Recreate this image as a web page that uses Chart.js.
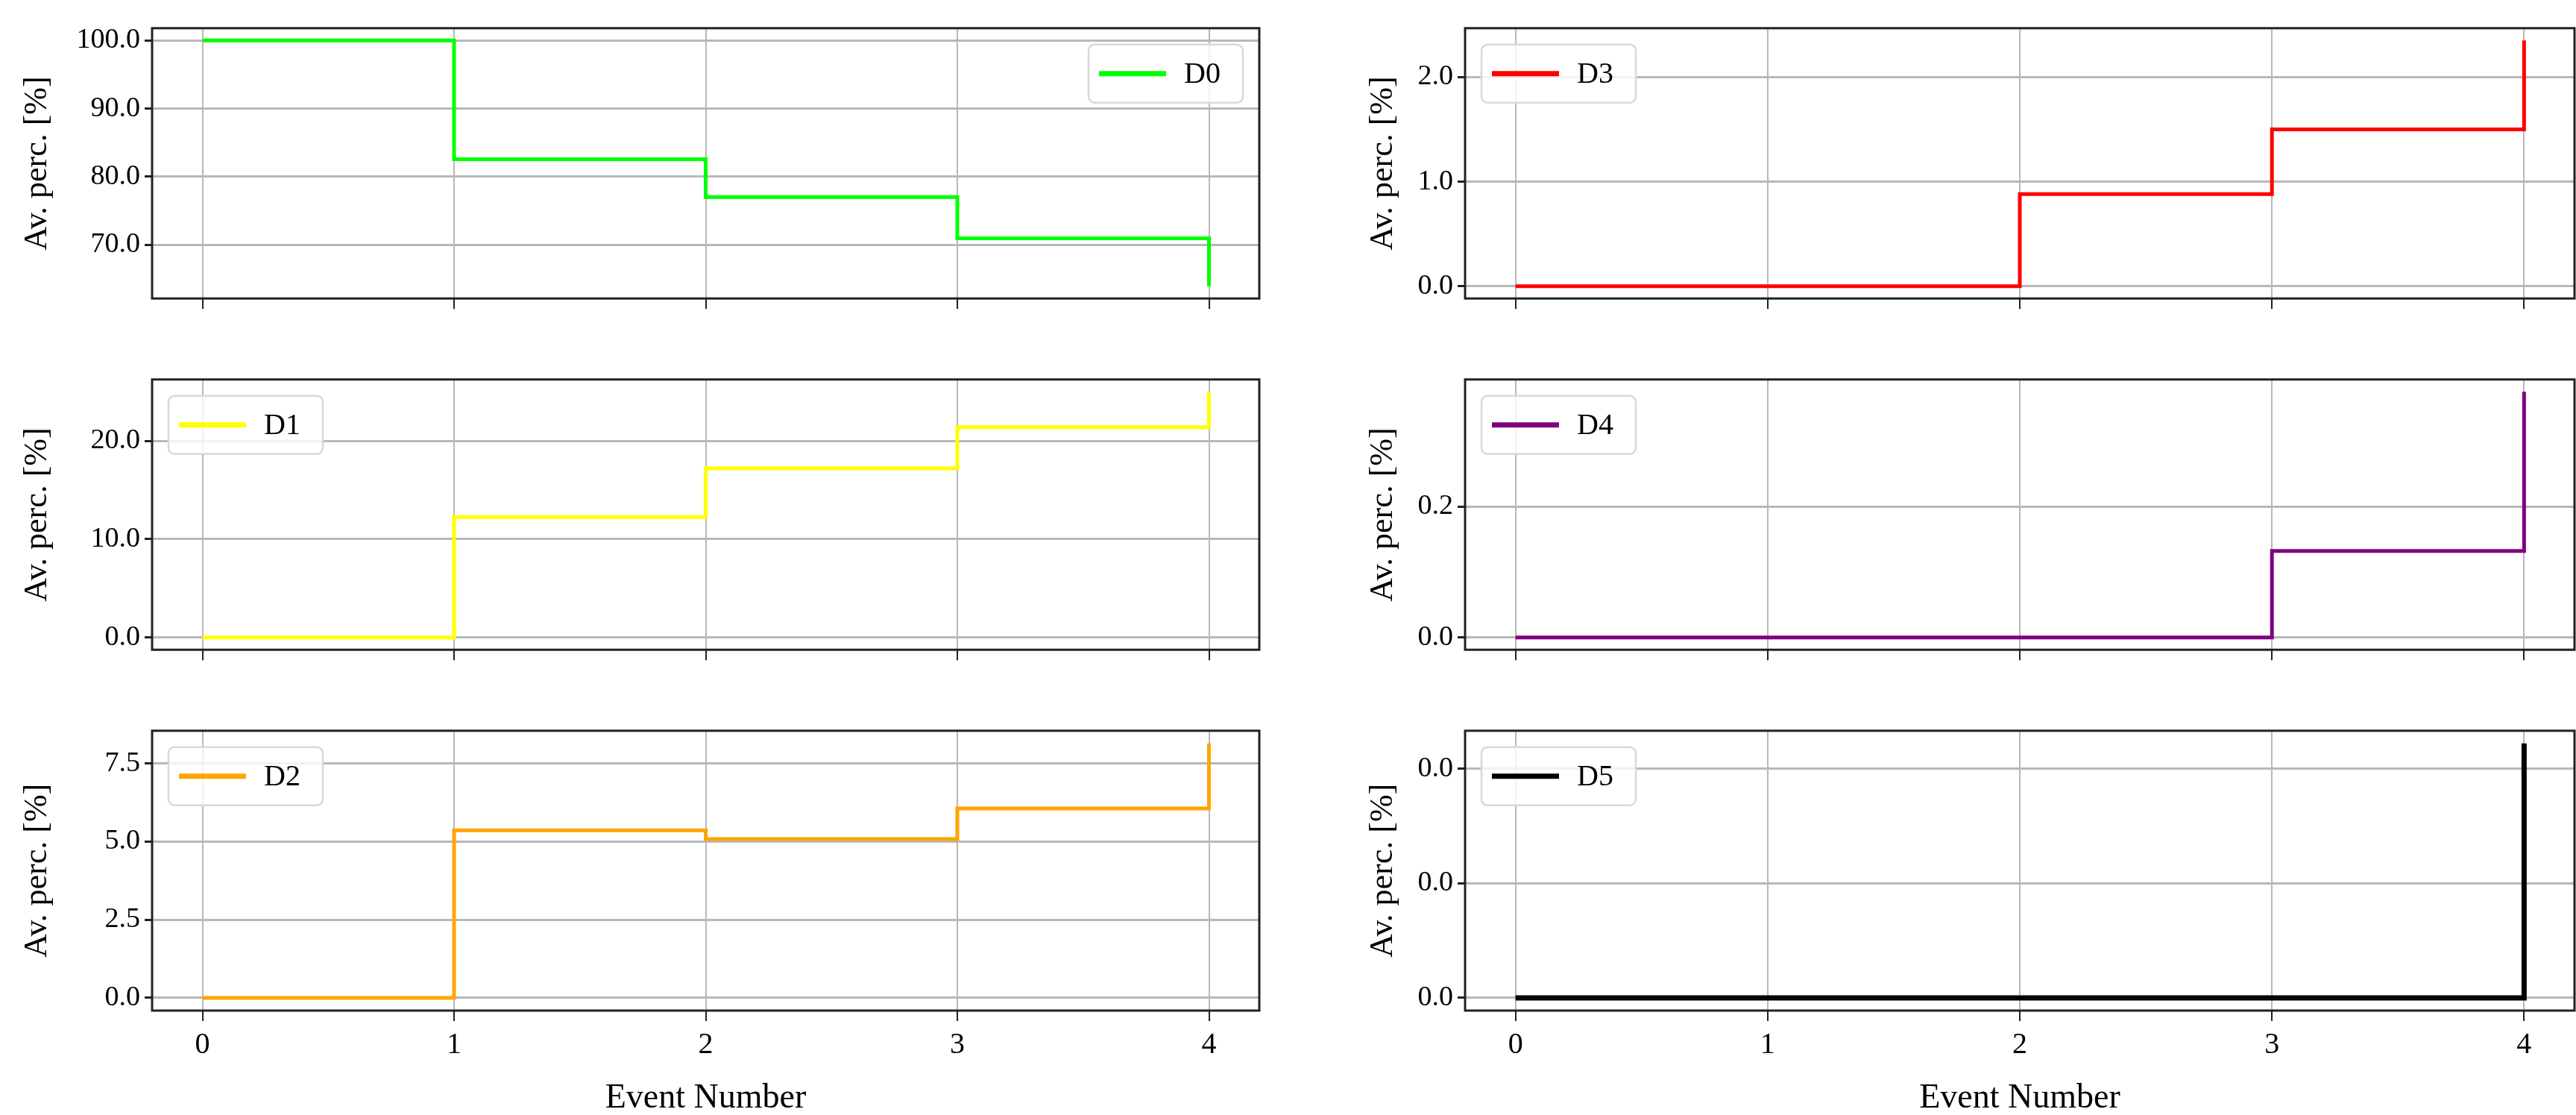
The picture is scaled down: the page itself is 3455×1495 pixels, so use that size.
<!DOCTYPE html>
<html>
<head>
<meta charset="utf-8">
<script src="https://cdn.jsdelivr.net/npm/chart.js@4"></script>
<style>
  body { margin: 0; background: #fff; }
  #wrap { position: relative; width: 3455px; height: 1495px; }
  .p { position: absolute; }
</style>
</head>
<body>
<div id="wrap"></div>
<script>
// event numbers (x) shared by all panels
const events = [0, 1, 2, 3, 4];

// average percentage per event
const d0 = [100, 82.55, 77.0, 70.95, 63.9];
const d1 = [0, 12.26, 17.2, 21.39, 25.0];
const d2 = [0, 5.36, 5.08, 6.06, 8.14];
const d3 = [0, 0, 0.88, 1.5, 2.35];
const d4 = [0, 0, 0, 0.1325, 0.376];
const d5 = [0, 0, 0, 0, 0.0222];

const names = ['D0', 'D1', 'D2', 'D3', 'D4', 'D5'];
const colors = ['#00ff00', '#ffff00', '#ffa500', '#ff0000', '#800080', '#000000'];
const series = [d0, d1, d2, d3, d4, d5];
const tickSteps = [10, 10, 2.5, 1, 0.2, 0.01];

const FONT = '"Liberation Serif", "DejaVu Serif", serif';
const rowTops = [21, 492, 963];
const plotH = 392;

// frame around the plot + matplotlib-like legend box inside it
const framePlugin = {
  id: 'frame',
  afterDraw(chart, args, opts) {
    const { ctx, chartArea: a } = chart;
    ctx.save();
    ctx.strokeStyle = '#222';
    ctx.lineWidth = 3;
    ctx.strokeRect(a.left, a.top, a.right - a.left, a.bottom - a.top);

    const ds = chart.data.datasets[0];
    const bw = 207, bh = 78;
    const bx = opts.right ? a.right - 22 - bw : a.left + 22;
    const by = a.top + 22;
    ctx.fillStyle = 'rgba(255,255,255,0.8)';
    ctx.strokeStyle = '#d8d8d8';
    ctx.lineWidth = 2.5;
    ctx.beginPath();
    ctx.roundRect(bx, by, bw, bh, 8);
    ctx.fill();
    ctx.stroke();
    ctx.strokeStyle = ds.borderColor;
    ctx.lineWidth = 7;
    ctx.beginPath();
    ctx.moveTo(bx + 14, by + bh / 2);
    ctx.lineTo(bx + 104, by + bh / 2);
    ctx.stroke();
    ctx.fillStyle = '#000';
    ctx.font = '40px ' + FONT;
    ctx.textBaseline = 'middle';
    ctx.fillText(ds.label, bx + 128, by + bh / 2 + 2);
    ctx.restore();
  }
};

function makePanel(i) {
  const col = i < 3 ? 0 : 1;
  const row = i % 3;
  const bottom = row === 2;
  const data = series[i];
  const lo = Math.min(...data), hi = Math.max(...data);
  const m = (hi - lo) * 0.05;
  const yMin = lo - m, yMax = hi + m;
  const step = tickSteps[i];

  const yW = col === 0 ? 184 : 140;
  const left = col === 0 ? 20 : 1825;
  const plotW = col === 0 ? 1485 : 1488;
  const xH = bottom ? 150 : 16;
  const padTop = 12;

  const cv = document.createElement('canvas');
  cv.className = 'p';
  const W = yW + plotW + 12, H = padTop + plotH + xH;
  cv.style.left = left + 'px';
  cv.style.top = (rowTops[row] - padTop) + 'px';
  cv.style.width = W + 'px';
  cv.style.height = H + 'px';
  cv.width = W; cv.height = H;
  document.getElementById('wrap').appendChild(cv);

  new Chart(cv.getContext('2d'), {
    type: 'line',
    data: {
      datasets: [{
        label: names[i],
        data: events.map((e, k) => ({ x: e, y: data[k] })),
        borderColor: colors[i],
        backgroundColor: colors[i],
        borderWidth: i === 5 ? 7 : 5,
        stepped: 'before',
        pointRadius: 0,
        fill: false
      }]
    },
    options: {
      responsive: false,
      animation: false,
      devicePixelRatio: 1,
      layout: { padding: { top: padTop, right: 12 } },
      plugins: {
        legend: { display: false },
        tooltip: { enabled: false },
        frame: { right: i === 0 }
      },
      scales: {
        x: {
          type: 'linear',
          min: -0.2,
          max: 4.2,
          afterBuildTicks: s => { s.ticks = events.map(v => ({ value: v })); },
          afterFit: s => { s.height = xH; },
          grid: { color: '#b8b8b8', lineWidth: 2, tickLength: 14, tickColor: '#222', tickWidth: 2 },
          border: { display: false },
          ticks: {
            display: bottom,
            font: { family: FONT, size: 40 },
            color: '#000',
            padding: 8
          },
          title: {
            display: bottom,
            text: 'Event Number',
            font: { family: FONT, size: 46 },
            color: '#000',
            padding: { top: 6 }
          }
        },
        y: {
          min: yMin,
          max: yMax,
          afterBuildTicks: s => {
            const t = [];
            for (let v = Math.ceil(yMin / step) * step; v <= yMax + 1e-9; v += step) t.push({ value: v });
            s.ticks = t;
          },
          afterFit: s => { s.width = yW; },
          grid: { color: '#b8b8b8', lineWidth: 3, tickLength: 10, tickColor: '#222', tickWidth: 3 },
          border: { display: false },
          ticks: {
            font: { family: FONT, size: 38 },
            color: '#000',
            padding: 6,
            callback: v => Number(v).toFixed(1)
          },
          title: {
            display: true,
            text: 'Av. perc. [%]',
            font: { family: FONT, size: 44 },
            color: '#000',
            padding: { bottom: 4 }
          }
        }
      }
    },
    plugins: [framePlugin]
  });
}

for (let i = 0; i < 6; i++) makePanel(i);
</script>
</body>
</html>
